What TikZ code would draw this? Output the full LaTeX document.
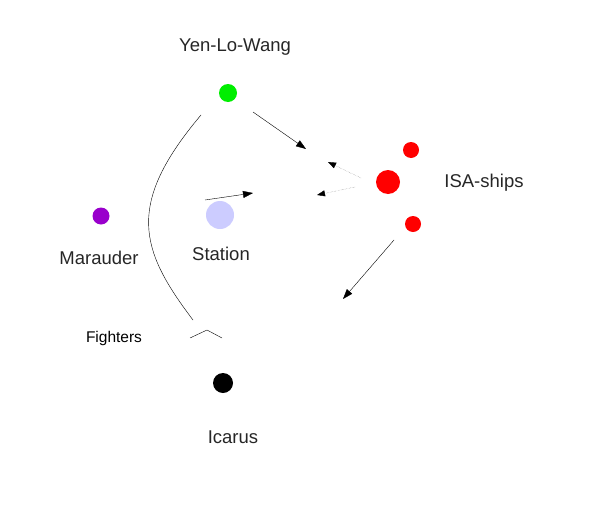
\documentclass[tikz,border=0pt]{standalone}
\usepackage{fontspec}
\setmainfont{Liberation Sans}
\usetikzlibrary{arrows.meta}

\begin{document}
\begin{tikzpicture}[x=1pt,y=-1pt,
  punkt/.style={circle,inner sep=0pt,minimum size=#1},
  schrift/.style={font=\fontsize{18.5}{20}\selectfont,text=black!85},
  pfeil/.style={-{Triangle[length=10pt,width=7pt]},thin},
  punktpfeil/.style={-{Triangle[length=8pt,width=6pt,black]},densely dotted,gray,thin}]

% Rahmen
\useasboundingbox (0,0) rectangle (599,506);

% Schiffe
\node[punkt=18pt,fill={rgb,255:red,0;green,238;blue,0}] (yen) at (228,93) {};
\node[punkt=17pt,fill={rgb,255:red,153;green,0;blue,204}] (marauder) at (101,216) {};
\node[punkt=28pt,fill={rgb,255:red,204;green,204;blue,255}] (station) at (220,215) {};
\node[punkt=20pt,fill=black] (icarus) at (223,383) {};
\node[punkt=24pt,fill=red] (isa) at (388,182) {};
\node[punkt=16pt,fill=red] (isaoben) at (411,150) {};
\node[punkt=16pt,fill=red] (isaunten) at (413,224) {};

% Beschriftungen
\node[schrift] (yenname) at (235,47) {Yen-Lo-Wang};
\node[schrift] (maraudername) at (99,258) {Marauder};
\node[schrift] (stationname) at (221,254) {Station};
\node[schrift] (icarusname) at (233,437) {Icarus};
\node[schrift] (isaname) at (484,183) {ISA-ships};
\node[font=\fontsize{15.5}{17}\selectfont] (fightername) at (114,338) {Fighters};

% Bewegungen
\coordinate (y1) at (253,112);
\coordinate (y2) at (306,149);
\coordinate (s1) at (205,200);
\coordinate (s2) at (253,193);
\coordinate (u1) at (394,240);
\coordinate (u2) at (343,299);
\coordinate (d1) at (361,178);
\coordinate (d2) at (328,162);
\coordinate (d3) at (355,187);
\coordinate (d4) at (317,195);
\draw[pfeil] (y1) -- (y2);
\draw[pfeil] (s1) -- (s2);
\draw[pfeil] (u1) -- (u2);
\draw[punktpfeil] (d1) -- (d2);
\draw[punktpfeil] (d3) -- (d4);

% Jaeger-Bahn
\coordinate (f1) at (201,115);
\coordinate (f2) at (193,320);
\draw[thin] (f1) .. controls (125,205) and (140,250) .. (f2);
\coordinate (k1) at (190,338);
\coordinate (k2) at (207,330);
\coordinate (k3) at (222,338);
\draw[thin] (k1) -- (k2) -- (k3);

\end{tikzpicture}
\end{document}
